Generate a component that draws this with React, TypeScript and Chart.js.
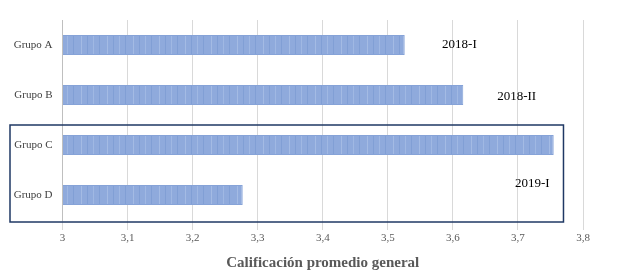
import React, { useEffect, useRef } from "react";
import { Chart, registerables } from "chart.js";

Chart.register(...registerables);

const categories = ["Grupo A", "Grupo B", "Grupo C", "Grupo D"];
const values = [3.526, 3.616, 3.755, 3.277];
const tickLabels = ["3", "3,1", "3,2", "3,3", "3,4", "3,5", "3,6", "3,7", "3,8"];
const periodLabels = ["2018-I", "2018-II", "2019-I"];
const axisTitle = "Calificación promedio general";

const FONT = "'Liberation Serif', 'Times New Roman', serif";

function makePattern(): CanvasPattern | string {
  const c = document.createElement("canvas");
  c.width = 26;
  c.height = 4;
  const ctx = c.getContext("2d");
  if (!ctx) return "#8eaadb";
  ctx.fillStyle = "#8faadc";
  ctx.fillRect(0, 0, 26, 4);
  const stripes: [number, string][] = [
    [3, "#a4bbe4"],
    [9, "#819fd5"],
    [15, "#a0b8e3"],
    [21, "#819fd5"],
  ];
  for (const [x, col] of stripes) {
    ctx.fillStyle = col;
    ctx.fillRect(x, 0, 1, 4);
  }
  return ctx.createPattern(c, "repeat") || "#8faadc";
}

const annotationPlugin = {
  id: "annot",
  afterDatasetsDraw(chart: any) {
    const { ctx, scales } = chart;
    const x = scales.x;
    const y = scales.y;
    ctx.save();
    ctx.font = `13px ${FONT}`;
    ctx.fillStyle = "#000000";
    ctx.textAlign = "center";
    ctx.textBaseline = "middle";
    ctx.fillText(periodLabels[0], x.getPixelForValue(3.61), y.getPixelForValue(0));
    ctx.fillText(periodLabels[1], x.getPixelForValue(3.698), y.getPixelForValue(1) + 2);
    ctx.fillText(periodLabels[2], x.getPixelForValue(3.722), y.getPixelForValue(2.78));
    // group box
    const left = 10;
    const right = x.getPixelForValue(3.77);
    const top = (y.getPixelForValue(1) + y.getPixelForValue(2)) / 2 + 5;
    const bottom = y.getPixelForValue(3) + 27;
    ctx.strokeStyle = "#1f3864";
    ctx.lineWidth = 1.5;
    ctx.strokeRect(left, top, right - left, bottom - top);
    ctx.restore();
  },
};

export default function App() {
  const ref = useRef<HTMLCanvasElement>(null);
  useEffect(() => {
    if (!ref.current) return;
    const pattern = makePattern();
    const chart = new Chart(ref.current, {
      type: "bar",
      data: {
        labels: categories,
        datasets: [
          {
            data: values,
            backgroundColor: pattern as any,
            borderColor: "#86a3d8",
            borderWidth: 1,
            categoryPercentage: 1,
            barPercentage: 0.4,
            base: 3,
          },
        ],
      },
      options: {
        indexAxis: "y",
        animation: false,
        responsive: false,
        maintainAspectRatio: false,
        layout: { padding: { top: 20, right: 36, left: 0, bottom: 0 } },
        plugins: { legend: { display: false }, tooltip: { enabled: false } },
        scales: {
          x: {
            min: 3,
            max: 3.8,
            ticks: {
              stepSize: 0.1,
              autoSkip: false,
              maxRotation: 0,
              padding: 2,
              color: "#595959",
              font: { family: FONT, size: 11 },
              callback: (_v: any, i: number) => tickLabels[i],
            },
            grid: { color: "#d9d9d9", tickLength: 10, drawTicks: true },
            border: { display: false },
            title: {
              display: true,
              text: axisTitle,
              color: "#595959",
              font: { family: FONT, size: 15, weight: "bold" },
              padding: { top: 0, bottom: 5 },
            },
            afterFit: (s: any) => {
              s.height = 57;
            },
          },
          y: {
            ticks: {
              color: "#404040",
              padding: 2,
              font: { family: FONT, size: 11 },
            },
            grid: { display: false },
            border: { display: true, color: "#bfbfbf", width: 1 },
            afterFit: (s: any) => {
              s.width = 62.5;
            },
          },
        },
      },
      plugins: [annotationPlugin],
    });
    return () => chart.destroy();
  }, []);
  return (
    <div style={{ position: "absolute", left: 0, top: 0, width: 619, height: 277, background: "#fff" }}>
      <canvas ref={ref} width={619} height={277} style={{ width: 619, height: 277 }} />
    </div>
  );
}
